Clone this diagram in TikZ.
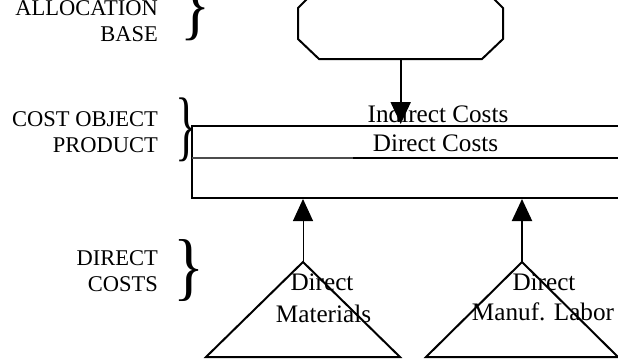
\documentclass[tikz,border=0pt]{standalone}
\usepackage{fontspec}
\setmainfont{Liberation Serif}
\usetikzlibrary{arrows.meta}
\begin{document}
\begin{tikzpicture}[x=1pt,y=-1pt,
  lbl/.style={font=\fontsize{22.5}{26}\selectfont, inner sep=0pt, align=right, anchor=base east},
  txt/.style={font=\fontsize{25.2}{30}\selectfont, inner sep=0pt, anchor=base},
  outline/.style={line width=2pt, line join=miter},
  feed/.style={-{Triangle[length=22pt,width=20pt]}, line width=2pt},
  bracket/.style={inner sep=0pt, font=\fontsize{25.2}{30}\selectfont}
]
\useasboundingbox (0,0) rectangle (618,359);
\clip (0,0) rectangle (618,359);

% allocation base (octagon, partly above the page)
\draw[outline] (298,8) -- (319,-13) -- (482,-13) -- (503,8) -- (503,39)
  -- (482,59) -- (319,59) -- (298,39) -- cycle;
\coordinate (alloc) at (400.7,59);

% cost object product: two stacked bands
\draw[outline] (640,126) -- (192,126) -- (192,198) -- (640,198);
\draw[line width=1.3pt, black!70] (192,158) -- (353,158);
\draw[line width=2pt] (353,158) -- (640,158);
\coordinate (indirect in) at (400.7,124);
\coordinate (mat in) at (303,199);
\coordinate (lab in) at (522,199);

\node[txt] (indirect) at (438,122.7) {Indirect Costs};
\node[txt] (direct) at (435.5,151.7) {Direct Costs};

% direct cost pools
\draw[outline] (206,357) -- (303,262) -- (400,357) -- cycle;
\draw[outline] (426,357) -- (522,262) -- (618,357) -- cycle;
\coordinate (mat) at (303,262);
\coordinate (lab) at (522,262);

\node[txt] (mat1) at (322,290) {Direct};
\node[txt] (mat2) at (323.5,322) {Materials};
\node[txt] (lab1) at (544,290) {Direct};
\node[txt] (lab2) at (543,320) {Manuf. Labor};

% flows into the product
\draw[feed] (alloc) -- (indirect in);
\draw[feed, line width=1pt] (mat) -- (mat in);
\draw[feed] (lab) -- (lab in);

% row captions (anchored at the baseline of their last line)
\node[lbl] (cap1) at (158,41) {ALLOCATION\\BASE};
\node[lbl] (cap2) at (158,152) {COST OBJECT\\PRODUCT};
\node[lbl] (cap3) at (158,291.7) {DIRECT\\COSTS};

\node[bracket] (br1) at (195.5,9) {\resizebox*{30pt}{64pt}{\}}};
\node[bracket] (br2) at (186.5,130) {\resizebox*{22pt}{64pt}{\}}};
\node[bracket] (br3) at (189,271) {\resizebox*{31pt}{62pt}{\}}};
\end{tikzpicture}
\end{document}
